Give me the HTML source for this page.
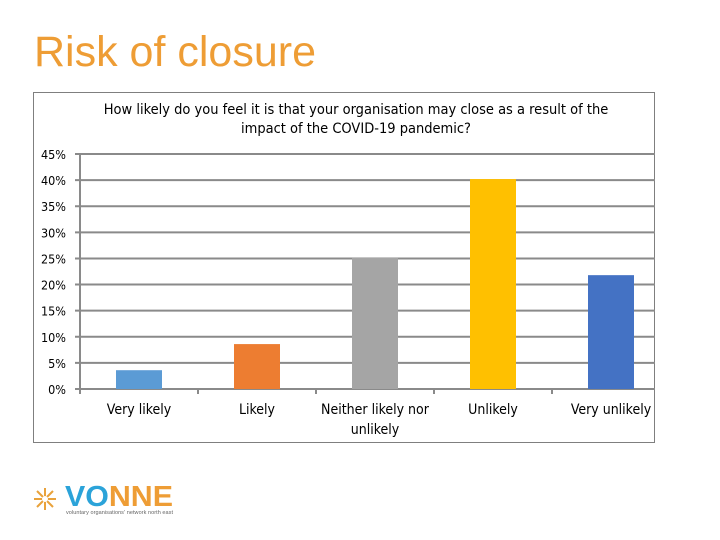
<!DOCTYPE html>
<html><head><meta charset="utf-8"><style>
body{margin:0;width:720px;height:540px;background:#fff;overflow:hidden;font-family:"Liberation Sans",sans-serif;position:relative}
#title{position:absolute;left:34px;top:28px;font-size:43px;color:#EE9D35}
#frame{position:absolute;left:33px;top:92px;width:622px;height:351px;border:1px solid #7f7f7f;box-sizing:border-box}
</style></head><body>
<div id="title">Risk of closure</div>
<div id="frame"></div>
<svg id="chart" width="720" height="540" style="position:absolute;left:0;top:0">
<text x="356" y="114" text-anchor="middle" font-size="14.5" fill="#000" font-family="DejaVu Sans Condensed, Liberation Sans, sans-serif">How likely do you feel it is that your organisation may close as a result of the</text>
<text x="356" y="133" text-anchor="middle" font-size="14.5" fill="#000" font-family="DejaVu Sans Condensed, Liberation Sans, sans-serif">impact of the COVID-19 pandemic?</text>
<g id="grid"></g><g id="bars"></g><g id="labels"></g>
<g>
<g stroke="#E9A23B" stroke-width="2"><line x1="34" y1="499" x2="56" y2="499"/><line x1="45" y1="488" x2="45" y2="510"/><line x1="37" y1="491" x2="53" y2="507"/><line x1="53" y1="491" x2="37" y2="507"/></g>
<circle cx="45" cy="499" r="3" fill="#fff"/>
<text x="65" y="506" font-size="29" font-weight="bold" fill="#2BA3D9" textLength="108" lengthAdjust="spacingAndGlyphs">VO<tspan fill="#EE9D35">NNE</tspan></text>
<text x="66" y="514" font-size="5.5" fill="#666" textLength="107">voluntary organisations' network north east</text>
</g>
</svg>
<script>
const categories=["Very likely","Likely","Neither likely nor|unlikely","Unlikely","Very unlikely"];
const values=[3.6,8.6,25.1,40.2,21.8];
const colors=["#5B9BD5","#ED7D31","#A5A5A5","#FFC000","#4472C4"];
const ticks=[0,5,10,15,20,25,30,35,40,45];
const ns="http://www.w3.org/2000/svg";
const x0=80,step=118,y0=389,yTop=154,maxV=45,right=655,bw=46;
const y=v=>y0-(v/maxV)*(y0-yTop);
const xc=i=>x0+step*(i+0.5);
function mk(t,a,p){const e=document.createElementNS(ns,t);for(const k in a)e.setAttribute(k,a[k]);p.appendChild(e);return e;}
const g=document.getElementById('grid'),b=document.getElementById('bars'),l=document.getElementById('labels');
ticks.forEach(t=>{
 const ln=mk('line',{x1:x0-5,x2:right,y1:y(t),y2:y(t),stroke:'#8a8a8a','stroke-width':2},g);
 
 
 const tx=mk('text',{x:66,y:y(t)+5,'text-anchor':'end','font-size':12.5,'font-family':'DejaVu Sans Condensed, Liberation Sans, sans-serif'},g);
 tx.textContent=t+'%';
 
 
});
const ax=mk('line',{x1:x0,x2:x0,y1:yTop,y2:y0+5,stroke:'#8a8a8a','stroke-width':2},g);


for(let i=1;i<categories.length;i++){
 const tk=mk('line',{x1:x0+step*i,x2:x0+step*i,y1:y0,y2:y0+5,stroke:'#8a8a8a','stroke-width':2},g);
 
 
}
values.forEach((v,i)=>{
 const r=mk('rect',{x:xc(i)-bw/2,y:y(v),width:bw,height:y0-y(v),fill:colors[i]},b);
 
 
 categories[i].split('|').forEach((s,j)=>{
  const t=mk('text',{x:xc(i),y:414+j*20,'text-anchor':'middle','font-size':14,'font-family':'DejaVu Sans Condensed, Liberation Sans, sans-serif'},l);
  t.textContent=s;
  
  
 });
});
</script>
</body></html>
